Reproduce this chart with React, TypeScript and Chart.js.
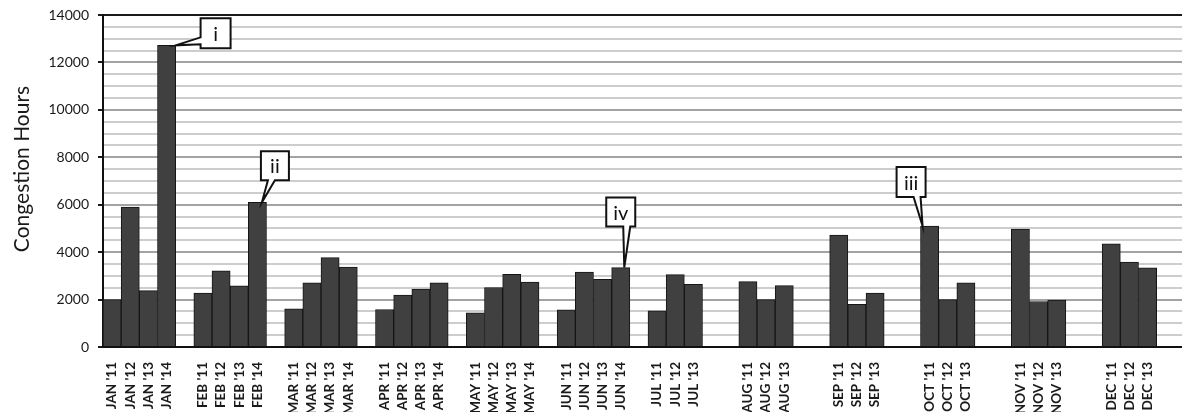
import React, { useEffect, useRef } from 'react';
import { Chart, registerables } from 'chart.js';

Chart.register(...registerables);

const MONTHS = ['JAN', 'FEB', 'MAR', 'APR', 'MAY', 'JUN', 'JUL', 'AUG', 'SEP', 'OCT', 'NOV', 'DEC'];
const YEARS = ["'11", "'12", "'13", "'14"];
const V2011 = [2000, 2270, 1610, 1580, 1440, 1570, 1530, 2760, 4720, 5100, 4970, 4350];
const V2012 = [5900, 3210, 2710, 2190, 2510, 3160, 3050, 2000, 1800, 2000, 1920, 3580];
const V2013 = [2380, 2580, 3770, 2440, 3060, 2850, 2640, 2590, 2270, 2710, 1980, 3340];
const V2014 = [12720, 6100, 3370, 2710, 2740, 3350, null, null, null, null, null, null];
const Y_TICKS = [0, 2000, 4000, 6000, 8000, 10000, 12000, 14000];
const Y_TITLE = 'Congestion Hours';
const CALLOUT_LABELS = ["JAN '14", "FEB '14", "OCT '11", "JUN '14"];
const CALLOUT_TEXTS = ['i', 'ii', 'iii', 'iv'];

// geometry (px) of each callout box relative to the tip point
const CALLOUT_GEOM = [
  { tipDx: 9, bx: 25, by: -27, w: 30, h: 30, side: 'left', a: 19, b: 26 },
  { tipDx: 4.5, bx: -1, by: -51, w: 28, h: 29, side: 'bottom', a: 7, b: 14 },
  { tipDx: -7, bx: -26, by: -59, w: 29, h: 30, side: 'bottom', a: 17, b: 24 },
  { tipDx: 3.5, bx: -18, by: -70, w: 29, h: 29, side: 'bottom', a: 17, b: 24 },
];

const FONT = 'Lato, "Open Sans", sans-serif';

function buildData() {
  const series = [V2011, V2012, V2013, V2014];
  const labels: string[] = [];
  const values: (number | null)[] = [];
  MONTHS.forEach((m, mi) => {
    for (let k = 0; k < 4; k++) {
      const v = series[k][mi];
      if (v === null || v === undefined) {
        labels.push('');
        values.push(null);
      } else {
        labels.push(`${m} ${YEARS[k]}`);
        values.push(v);
      }
    }
    labels.push('');
    values.push(null);
  });
  return { labels, values };
}

const calloutPlugin = {
  id: 'callouts',
  afterDatasetsDraw(chart: any) {
    const ctx = chart.ctx;
    const meta = chart.getDatasetMeta(0);
    const labels: string[] = chart.data.labels;
    CALLOUT_LABELS.forEach((lab, i) => {
      const idx = labels.indexOf(lab);
      if (idx < 0) return;
      const bar = meta.data[idx];
      const g = CALLOUT_GEOM[i];
      const tx = bar.x + g.tipDx;
      const ty = bar.y;
      const x0 = tx + g.bx;
      const y0 = ty + g.by;
      const x1 = x0 + g.w;
      const y1 = y0 + g.h;
      ctx.save();
      ctx.beginPath();
      if (g.side === 'left') {
        ctx.moveTo(x0, y0);
        ctx.lineTo(x1, y0);
        ctx.lineTo(x1, y1);
        ctx.lineTo(x0, y1);
        ctx.lineTo(x0, y0 + g.b);
        ctx.lineTo(tx, ty);
        ctx.lineTo(x0, y0 + g.a);
        ctx.closePath();
      } else {
        ctx.moveTo(x0, y0);
        ctx.lineTo(x1, y0);
        ctx.lineTo(x1, y1);
        ctx.lineTo(x0 + g.b, y1);
        ctx.lineTo(tx, ty);
        ctx.lineTo(x0 + g.a, y1);
        ctx.lineTo(x0, y1);
        ctx.closePath();
      }
      ctx.fillStyle = '#ffffff';
      ctx.fill();
      ctx.lineWidth = 2;
      ctx.strokeStyle = '#111111';
      ctx.lineJoin = 'miter';
      ctx.stroke();
      ctx.fillStyle = '#111111';
      ctx.font = `20px ${FONT}`;
      ctx.textAlign = 'center';
      ctx.textBaseline = 'middle';
      ctx.fillText(CALLOUT_TEXTS[i], (x0 + x1) / 2, (y0 + y1) / 2 + 1);
      ctx.restore();
    });
    // y axis title
    const a = chart.chartArea;
    ctx.save();
    ctx.translate(22, (a.top + a.bottom) / 2 - 12);
    ctx.rotate(-Math.PI / 2);
    ctx.fillStyle = '#1a1a1a';
    ctx.font = `21px ${FONT}`;
    ctx.textAlign = 'center';
    ctx.textBaseline = 'middle';
    ctx.fillText(Y_TITLE, 0, 0);
    ctx.restore();
  },
};

export default function App() {
  const ref = useRef<HTMLCanvasElement | null>(null);
  useEffect(() => {
    document.body.style.margin = '0';
    const { labels, values } = buildData();
    const chart = new Chart(ref.current as HTMLCanvasElement, {
      type: 'bar',
      data: {
        labels,
        datasets: [
          {
            data: values,
            backgroundColor: '#404040',
            borderColor: '#151515',
            borderWidth: 1,
            barPercentage: 1,
            categoryPercentage: 1,
          },
        ],
      },
      options: {
        responsive: false,
        animation: false,
        devicePixelRatio: 1,
        layout: { padding: { top: 15, right: 1, left: 0, bottom: 0 } },
        plugins: { legend: { display: false }, tooltip: { enabled: false } },
        scales: {
          x: {
            grid: { display: false },
            border: { display: true, color: '#111111', width: 2 },
            ticks: {
              autoSkip: false,
              maxRotation: 90,
              minRotation: 90,
              padding: 7,
              color: '#1a1a1a',
              font: { family: FONT, size: 13.5, weight: 'bold' },
            },
            afterFit(scale: any) {
              scale.height = 65;
              scale.paddingLeft = 0;
              scale.paddingRight = 0;
            },
          },
          y: {
            min: 0,
            max: 14000,
            ticks: {
              stepSize: 500,
              autoSkip: false,
              padding: 9,
              color: '#1a1a1a',
              font: { family: FONT, size: 14 },
              callback: (v: any) => (Y_TICKS.includes(Number(v)) ? String(v) : ''),
            },
            grid: {
              color: (c: any) => {
                const v = c.tick ? c.tick.value : 0;
                if (v === 0 || v === 14000) return '#1a1a1a';
                if (Y_TICKS.includes(v)) return '#a3a3a3';
                return '#cdcdcd';
              },
              lineWidth: 2,
              tickColor: (c: any) => {
                const v = c.tick ? c.tick.value : 0;
                return Y_TICKS.includes(v) ? '#1a1a1a' : 'rgba(0,0,0,0)';
              },
              tickLength: 5,
            },
            border: { display: true, color: '#111111', width: 2 },
            afterFit(scale: any) {
              scale.width = 103;
              scale.paddingTop = 0;
              scale.paddingBottom = 0;
            },
          },
        },
      },
      plugins: [calloutPlugin],
    });
    return () => chart.destroy();
  }, []);
  return (
    <div style={{ position: 'absolute', left: 0, top: 0, width: 1182, height: 412, overflow: 'hidden', background: '#fff' }}>
      <canvas ref={ref} width={1194} height={412} style={{ display: 'block' }} />
    </div>
  );
}
